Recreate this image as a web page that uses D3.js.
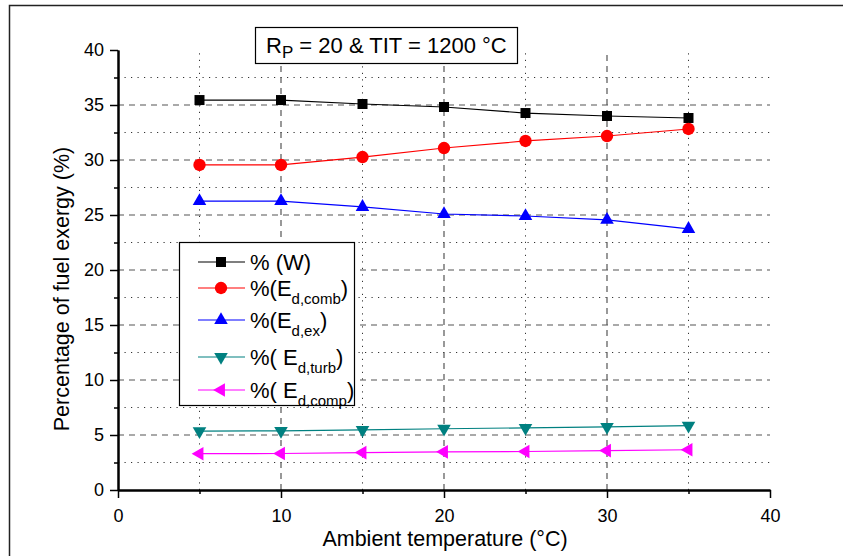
<!DOCTYPE html>
<html>
<head>
<meta charset="utf-8">
<script src="https://cdn.jsdelivr.net/npm/d3@7"></script>
<style>
  html, body { margin: 0; padding: 0; background: #fff; }
  svg { display: block; font-family: "Liberation Sans", Arial, sans-serif; }
</style>
</head>
<body>
<svg id="chart" width="843" height="556"></svg>
<script>
// ---- data ----
const temps = [5, 10, 15, 20, 25, 30, 35];
const pctW    = [35.45, 35.45, 35.09, 34.82, 34.27, 34.00, 33.82];
const pctComb = [29.55, 29.55, 30.27, 31.09, 31.73, 32.18, 32.82];
const pctEx   = [26.27, 26.27, 25.73, 25.09, 24.91, 24.55, 23.73];
const pctTurb = [5.35, 5.38, 5.47, 5.57, 5.65, 5.73, 5.85];
const pctComp = [3.30, 3.32, 3.40, 3.47, 3.50, 3.58, 3.66];
const xMajorTicks = [0, 10, 20, 30, 40];
const xMinorTicks = [5, 15, 25, 35];
const yMajorTicks = [0, 5, 10, 15, 20, 25, 30, 35, 40];
const yMinorTicks = [2.5, 7.5, 12.5, 17.5, 22.5, 27.5, 32.5, 37.5];

const series = [
  {key: "W",    values: pctW,    color: "#000000", symbol: d3.symbolSquare,   size: 100, rotate: 0,   pre: "% (W)", sub: null},
  {key: "comb", values: pctComb, color: "#ff0000", symbol: d3.symbolCircle,   size: 120, rotate: 0,   pre: "%(E", sub: "d,comb"},
  {key: "ex",   values: pctEx,   color: "#0000ff", symbol: d3.symbolTriangle, size: 80,  rotate: 0,   pre: "%(E", sub: "d,ex"},
  {key: "turb", values: pctTurb, color: "#008080", symbol: d3.symbolTriangle, size: 80,  rotate: 180, pre: "%( E", sub: "d,turb"},
  {key: "comp", values: pctComp, color: "#ff00ff", symbol: d3.symbolTriangle, size: 80,  rotate: -90, pre: "%( E", sub: "d,comp"}
];

const svg = d3.select("#chart");

// outer frame
svg.append("path").attr("d", "M9.5,556 L9.5,5.5 L843,5.5")
  .attr("fill", "none").attr("stroke", "#222").attr("stroke-width", 1.5);

const x = d3.scaleLinear().domain([0, 40]).range([118, 770]);
const y = d3.scaleLinear().domain([0, 40]).range([490, 50]);

// gridlines
const grid = svg.append("g");
yMajorTicks.filter(v => v > 0 && v < 40).forEach(v => {
  grid.append("line").attr("x1", x(0)).attr("x2", x(40)).attr("y1", y(v)).attr("y2", y(v))
    .attr("stroke", "#555").attr("stroke-width", 1.2).attr("stroke-dasharray", "6,5");
});
yMinorTicks.forEach(v => {
  grid.append("line").attr("x1", x(0)).attr("x2", x(40)).attr("y1", y(v)).attr("y2", y(v))
    .attr("stroke", "#333").attr("stroke-width", 1).attr("stroke-dasharray", "1.2,5.3");
});
xMajorTicks.filter(v => v > 0 && v < 40).forEach(v => {
  grid.append("line").attr("x1", x(v)).attr("x2", x(v)).attr("y1", y(0)).attr("y2", y(40))
    .attr("stroke", "#555").attr("stroke-width", 1.2).attr("stroke-dasharray", "6,5");
});
xMinorTicks.forEach(v => {
  grid.append("line").attr("x1", x(v)).attr("x2", x(v)).attr("y1", y(0)).attr("y2", y(40))
    .attr("stroke", "#333").attr("stroke-width", 1).attr("stroke-dasharray", "1.2,5.3");
});

// axes
const xAxis = svg.append("g").attr("transform", `translate(0,${y(0)})`)
  .call(d3.axisBottom(x).tickValues(xMajorTicks).tickSize(8).tickSizeOuter(0).tickPadding(11));
const xAxisMinor = svg.append("g").attr("transform", `translate(0,${y(0)})`)
  .call(d3.axisBottom(x).tickValues(xMinorTicks).tickSize(4).tickSizeOuter(0).tickFormat(""));
const yAxis = svg.append("g").attr("transform", `translate(${x(0)},0)`)
  .call(d3.axisLeft(y).tickValues(yMajorTicks).tickSize(8).tickSizeOuter(0).tickPadding(6));
const yAxisMinor = svg.append("g").attr("transform", `translate(${x(0)},0)`)
  .call(d3.axisLeft(y).tickValues(yMinorTicks).tickSize(4).tickSizeOuter(0).tickFormat(""));
[xAxis, xAxisMinor, yAxis, yAxisMinor].forEach(g => {
  g.select(".domain").attr("stroke", "#000").attr("stroke-width", 2);
  g.selectAll(".tick line").attr("stroke", "#000").attr("stroke-width", 1.5);
  g.selectAll("text").attr("font-size", 18).attr("fill", "#000")
    .attr("font-family", "'Liberation Sans', Arial, sans-serif");
});

// axis titles
svg.append("text").attr("x", 445).attr("y", 546).attr("text-anchor", "middle")
  .attr("font-size", 21.5).text("Ambient temperature (°C)");
svg.append("text").attr("transform", "translate(69,289) rotate(-90)").attr("text-anchor", "middle")
  .attr("font-size", 21.5).text("Percentage of fuel exergy (%)");

// series lines & markers
const line = d3.line().x((d, i) => x(temps[i])).y(d => y(d));
series.forEach(s => {
  svg.append("path").datum(s.values).attr("d", line)
    .attr("fill", "none").attr("stroke", s.color).attr("stroke-width", 1.2);
  svg.append("g").selectAll("path").data(s.values).join("path")
    .attr("d", d3.symbol().type(s.symbol).size(s.size))
    .attr("transform", (d, i) => `translate(${x(temps[i])},${y(d)}) rotate(${s.rotate})`)
    .attr("fill", s.color);
});

// title box
const tb = svg.append("g");
tb.append("rect").attr("x", 255.5).attr("y", 27.5).attr("width", 262).attr("height", 36)
  .attr("fill", "#fff").attr("stroke", "#000").attr("stroke-width", 1.2);
const tt = tb.append("text").attr("x", 266).attr("y", 53).attr("font-size", 22);
tt.append("tspan").text("R");
tt.append("tspan").attr("font-size", 17).attr("dy", 5).text("P");
tt.append("tspan").attr("dy", -5).text(" = 20 & TIT = 1200 °C");

// legend
const lg = svg.append("g");
lg.append("rect").attr("x", 179.5).attr("y", 242.5).attr("width", 175).attr("height", 163)
  .attr("fill", "#fff").attr("stroke", "#000").attr("stroke-width", 1.2);
const legendY = [262, 288, 320, 357, 390];
series.forEach((s, i) => {
  const ly = legendY[i];
  lg.append("line").attr("x1", 198).attr("x2", 245).attr("y1", ly).attr("y2", ly)
    .attr("stroke", s.color).attr("stroke-width", 1.2);
  lg.append("path").attr("d", d3.symbol().type(s.symbol).size(s.size))
    .attr("transform", `translate(221,${ly}) rotate(${s.rotate})`).attr("fill", s.color);
  const t = lg.append("text").attr("x", 250).attr("y", ly + 8).attr("font-size", 22);
  t.append("tspan").text(s.pre);
  if (s.sub) {
    t.append("tspan").attr("font-size", 15).attr("dy", 8).text(s.sub);
    t.append("tspan").attr("dy", -8).text(")");
  }
});
</script>
</body>
</html>
